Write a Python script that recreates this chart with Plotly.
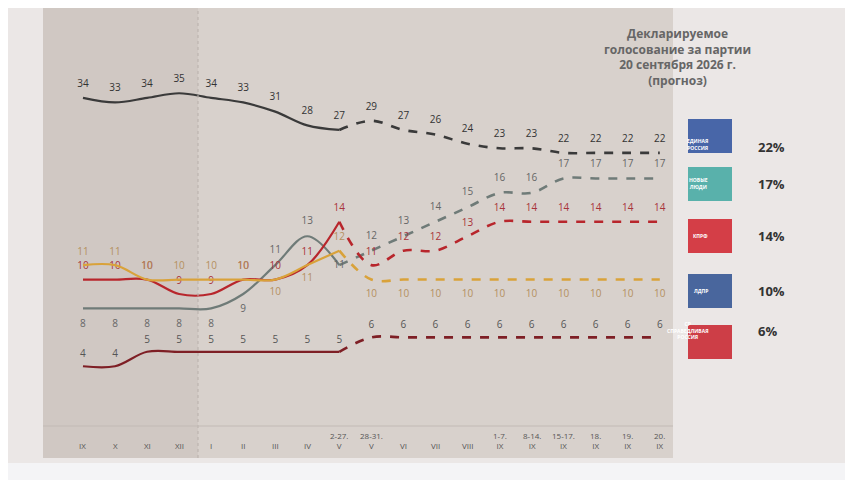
import plotly.graph_objects as go

periods = ["IX", "X", "XI", "XII", "I", "II", "III", "IV", "2-27.<br>V", "28-31.<br>V",
           "VI", "VII", "VIII", "1-7.<br>IX", "8-14.<br>IX", "15-17.<br>IX", "18.<br>IX", "19.<br>IX", "20.<br>IX"]

er = [34, 33, 34, 35, 34, 33, 31, 28, 27, 29, 27, 26, 24, 23, 23, 22, 22, 22, 22]
nl = [8, 8, 8, 8, 8, 9, 11, 13, 11, 12, 13, 14, 15, 16, 16, 17, 17, 17, 17]
kprf = [10, 10, 10, 9, 9, 10, 10, 11, 14, 11, 12, 12, 13, 14, 14, 14, 14, 14, 14]
ldpr = [11, 11, 10, 10, 10, 10, 10, 11, 12, 10, 10, 10, 10, 10, 10, 10, 10, 10, 10]
sr = [4, 4, 5, 5, 5, 5, 5, 5, 5, 6, 6, 6, 6, 6, 6, 6, 6, 6, 6]

forecast_parties = ["ЕДИНАЯ<br>РОССИЯ", "НОВЫЕ<br>ЛЮДИ", "КПРФ", "ЛДПР", "СР<br>СПРАВЕДЛИВАЯ<br>РОССИЯ"]
forecast_pct = ["22%", "17%", "14%", "10%", "6%"]

last_solid = 8  # 2-27.V, after that forecast dashed
n = len(periods)
x = list(range(n))

# (values, line colour, label colour, label offset per point, axis)
series = [
    (er, "#3a3a3a", "#333", [3.0] * n, "y2"),
    (nl, "#6f7b78", "#666", [-1.1] * 6 + [1.0, 1.0, 0.0] + [1.0] * 10, "y"),
    (kprf, "#b8262c", "#a8343a", [0.9] * n, "y"),
    (ldpr, "#d9a23a", "#b49060", [0.9] * 6 + [-0.9, -0.9, 0.9] + [-1.0] * 10, "y"),
    (sr, "#7e1f25", "#555", [0.8] * n, "y"),
]

fig = go.Figure()

# backgrounds
fig.add_shape(type="rect", xref="paper", yref="paper", x0=35/853, x1=665/853, y0=30/480, y1=1,
              fillcolor="#d8d1cc", line_width=0, layer="below")
fig.add_shape(type="rect", xref="paper", yref="paper", x0=35/853, x1=190/853, y0=30/480, y1=1,
              fillcolor="#d0c8c3", line_width=0, layer="below")
fig.add_shape(type="rect", xref="paper", yref="paper", x0=0, x1=1, y0=0, y1=25/480,
              fillcolor="#f4f4f6", line_width=0, layer="below")
fig.add_shape(type="line", xref="paper", yref="paper", x0=190/853, x1=190/853, y0=30/480, y1=1,
              line=dict(color="#b8b0aa", width=1, dash="dot"))
fig.add_shape(type="line", xref="paper", yref="paper", x0=35/853, x1=665/853, y0=62/480, y1=62/480,
              line=dict(color="#c2bab5", width=1))

for vals, color, tcol, offs, ax in series:
    fig.add_trace(go.Scatter(x=x[:last_solid + 1], y=vals[:last_solid + 1], mode="lines", yaxis=ax,
                             line=dict(color=color, width=2.2, shape="spline"), showlegend=False))
    fig.add_trace(go.Scatter(x=x[last_solid:], y=vals[last_solid:], mode="lines", yaxis=ax,
                             line=dict(color=color, width=2.6, shape="spline", dash="dash"),
                             showlegend=False))
    fig.add_trace(go.Scatter(x=x, y=[v + o for v, o in zip(vals, offs)], mode="text", yaxis=ax,
                             text=[str(v) for v in vals], textfont=dict(size=10, color=tcol),
                             showlegend=False))

for i, p in enumerate(periods):
    fig.add_annotation(x=i, y=35/480, yref="paper", text=p, showarrow=False, yanchor="bottom",
                       font=dict(size=8, color="#555"))

fig.add_annotation(x=745/853, y=1 - 15/480, xref="paper", yref="paper", yanchor="top",
                   text="<b>Декларируемое<br>голосование за партии<br>20 сентября 2026 г.<br>(прогноз)</b>",
                   showarrow=False, font=dict(size=12, color="#666"))

logo_colors = ["#2b4f9c", "#3fa7a0", "#d0202a", "#2d4f8f", "#c8202a"]
logo_y = [128, 176, 228, 283, 334]
for name, pct, col, py in zip(forecast_parties, forecast_pct, logo_colors, logo_y):
    fig.add_shape(type="rect", xref="paper", yref="paper", x0=680/853, x1=724/853,
                  y0=1 - (py + 17)/480, y1=1 - (py - 17)/480, fillcolor=col, opacity=0.85, line_width=0)
    fig.add_annotation(x=702/853, y=1 - py/480, xref="paper", yref="paper", text="<b>" + name + "</b>",
                       showarrow=False, font=dict(size=5, color="white"))
    fig.add_annotation(x=748/853, y=1 - py/480, xref="paper", yref="paper", text="<b>" + pct + "</b>",
                       showarrow=False, xanchor="left", font=dict(size=13, color="#333"))

fig.update_layout(
    width=853, height=480, margin=dict(l=0, r=0, t=0, b=0),
    paper_bgcolor="#ebe7e6", plot_bgcolor="rgba(0,0,0,0)",
    font=dict(family="Open Sans"),
    xaxis=dict(range=[-2.34, 24.28], visible=False),
    yaxis=dict(range=[-4.43, 28.8], visible=False),
    yaxis2=dict(range=[-51.1, 53.6], visible=False, overlaying="y"),
)
fig.write_html("out.html")
